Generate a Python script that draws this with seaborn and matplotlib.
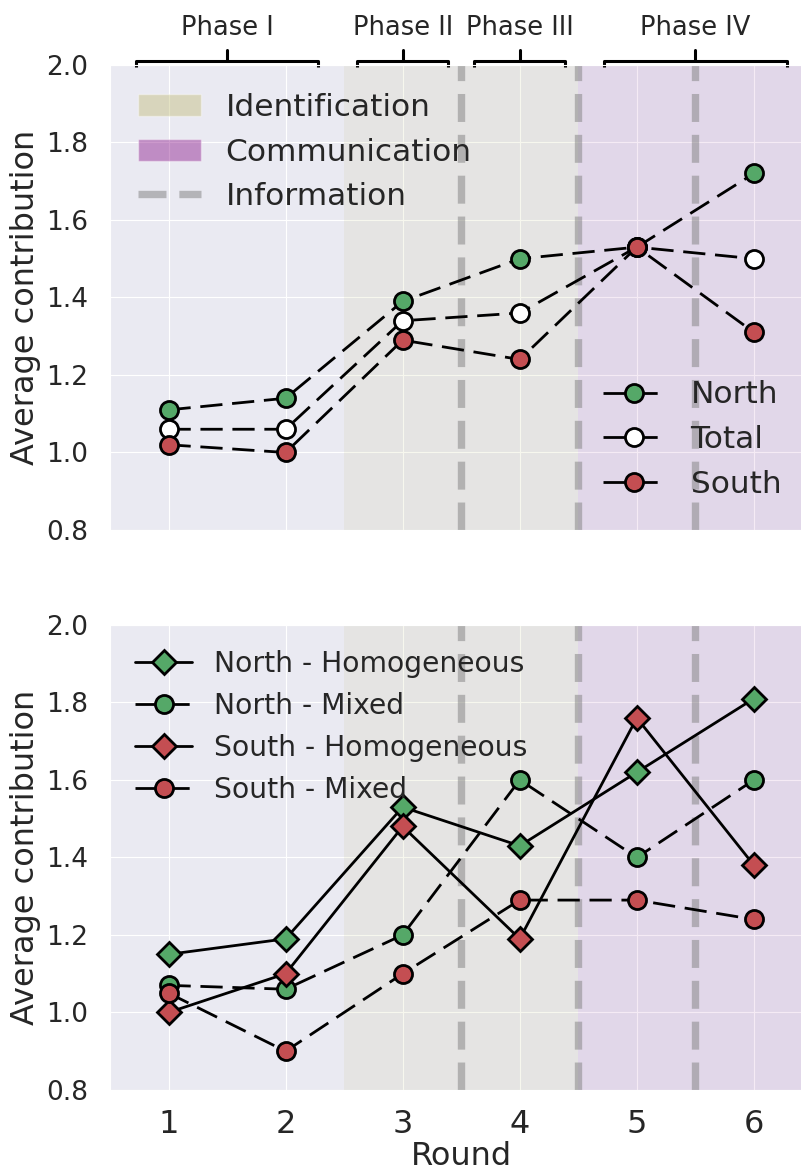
import matplotlib
matplotlib.use("Agg")
import matplotlib.pyplot as plt
from matplotlib.patches import Patch
from matplotlib.lines import Line2D
import seaborn as sns

# data
rounds = [1, 2, 3, 4, 5, 6]
north = [1.11, 1.14, 1.39, 1.50, 1.53, 1.72]
total = [1.06, 1.06, 1.34, 1.36, 1.53, 1.50]
south = [1.02, 1.00, 1.29, 1.24, 1.53, 1.31]

north_homog = [1.15, 1.19, 1.53, 1.43, 1.62, 1.81]
north_mixed = [1.07, 1.06, 1.20, 1.60, 1.40, 1.60]
south_homog = [1.00, 1.10, 1.48, 1.19, 1.76, 1.38]
south_mixed = [1.05, 0.90, 1.10, 1.29, 1.29, 1.24]

phases = ["Phase I", "Phase II", "Phase III", "Phase IV"]
phase_centers = [1.5, 3.0, 4.0, 5.5]
phase_halfwidths = [0.78, 0.39, 0.39, 0.78]
info_lines = [3.5, 4.5, 5.5]

green = "#55A868"
red = "#C44E52"
ident_col = "#BDB76B"
comm_col = "purple"
dash = (0, (8, 3.5))
info_dash = (0, (3.8, 1.75))

sns.set_style("darkgrid")
plt.rcParams["font.family"] = ["DejaVu Sans"]

fig = plt.figure(figsize=(8.01, 11.71), dpi=100)
ax1 = fig.add_axes([0.1373, 0.5474, 0.877, 0.3971])
ax2 = fig.add_axes([0.1373, 0.0692, 0.877, 0.3971])


def shade(ax):
    ax.axvspan(2.5, 4.5, color=ident_col, alpha=0.11, lw=0)
    ax.axvspan(4.5, 6.6, color=comm_col, alpha=0.08, lw=0)
    for x in info_lines:
        ax.axvline(x, color="gray", alpha=0.5, lw=5.3, ls=info_dash, zorder=1.5)


def series(ax, y, mfc, marker, ls, label, ms=13):
    sns.lineplot(x=rounds, y=y, ax=ax, color="k", lw=2, linestyle=ls,
                 marker=marker, markersize=ms, markerfacecolor=mfc,
                 markeredgecolor="k", markeredgewidth=2, label=label,
                 legend=False)


for ax in (ax1, ax2):
    shade(ax)
    ax.set_xlim(0.5, 6.5)
    ax.set_ylim(0.8, 2.0)
    ax.set_xticks(rounds)
    ax.set_yticks([0.8, 1.0, 1.2, 1.4, 1.6, 1.8, 2.0])
    ax.tick_params(axis="y", labelsize=19, pad=12)
    ax.tick_params(axis="x", labelsize=23, pad=10)
    ax.set_ylabel("Average contribution", fontsize=23)

# top panel
series(ax1, north, green, "o", dash, "North")
series(ax1, total, "white", "o", dash, "Total")
series(ax1, south, red, "o", dash, "South")
ax1.tick_params(labelbottom=False)
ax1.set_xlabel("")

leg_a = ax1.legend(handles=[
    Patch(facecolor=ident_col, alpha=0.4, label="Identification"),
    Patch(facecolor=comm_col, alpha=0.4, label="Communication"),
    Line2D([], [], color="gray", alpha=0.5, lw=5.3, ls=info_dash, label="Information"),
], loc="upper left", fontsize=22.5, frameon=False, borderaxespad=0.5)
ax1.add_artist(leg_a)
h, l = ax1.get_legend_handles_labels()
ax1.legend(h[-3:], l[-3:], loc="lower right", fontsize=22.5, frameon=False,
           borderaxespad=0.6)

# phase brackets above the top panel
tr = ax1.get_xaxis_transform()
for name, c, hw in zip(phases, phase_centers, phase_halfwidths):
    ax1.plot([c - hw, c - hw, c + hw, c + hw], [0.996, 1.009, 1.009, 0.996],
             color="k", lw=2.2, transform=tr, clip_on=False, solid_capstyle="butt")
    ax1.plot([c, c], [1.009, 1.032], color="k", lw=2.2, transform=tr, clip_on=False)
    ax1.text(c, 1.08, name, transform=tr, ha="center", va="center", fontsize=18.5)

# bottom panel
series(ax2, north_homog, green, "D", "-", "North - Homogeneous", ms=12)
series(ax2, north_mixed, green, "o", dash, "North - Mixed")
series(ax2, south_homog, red, "D", "-", "South - Homogeneous", ms=12)
series(ax2, south_mixed, red, "o", dash, "South - Mixed")
ax2.legend(loc="upper left", fontsize=20.3, frameon=False, labelspacing=0.49)
ax2.set_xlabel("Round", fontsize=23, labelpad=1)

fig.savefig("out.png", dpi=100)
